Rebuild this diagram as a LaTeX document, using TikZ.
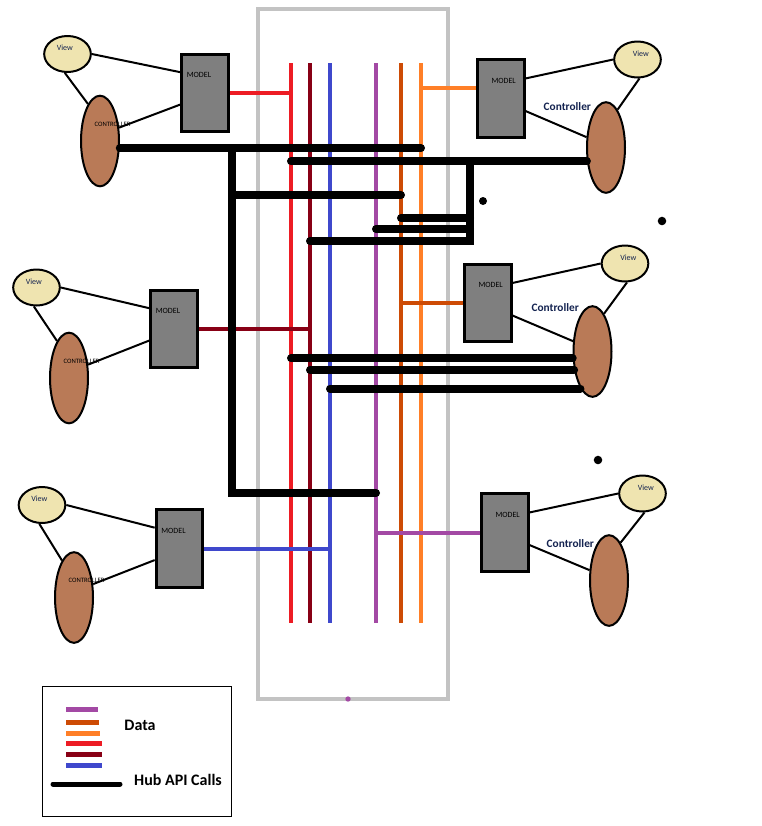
\documentclass[tikz,border=0pt]{standalone}
\usepackage{fontspec}
\setmainfont{Carlito}
\usetikzlibrary{shapes.geometric}

\definecolor{hubGray}{RGB}{195,195,195}
\definecolor{dataRed}{RGB}{237,28,36}
\definecolor{dataDarkRed}{RGB}{136,0,21}
\definecolor{dataBlue}{RGB}{63,72,204}
\definecolor{dataPurple}{RGB}{163,73,164}
\definecolor{dataDarkOrange}{RGB}{205,75,5}
\definecolor{dataOrange}{RGB}{255,127,39}
\definecolor{viewFill}{RGB}{239,228,176}
\definecolor{ctrlFill}{RGB}{185,122,87}
\definecolor{modelFill}{RGB}{127,127,127}
\definecolor{labelNavy}{RGB}{20,35,80}

\begin{document}
\begin{tikzpicture}[
    x=0.75pt, y=-0.75pt,
    hubBoxStyle/.style={hubGray, line width=3pt},
    hubLineStyle/.style={line width=3pt},
    hubApiStyle/.style={black, line width=6pt, line cap=round},
    mvcModel/.style={rectangle, draw=black, line width=2.25pt, fill=modelFill,
        minimum width=35pt, minimum height=58pt, inner sep=0pt},
    mvcView/.style={ellipse, draw=black, line width=1.5pt, fill=viewFill,
        minimum width=35pt, minimum height=27pt, inner sep=0pt},
    mvcCtrl/.style={ellipse, draw=black, line width=1.5pt, fill=ctrlFill,
        minimum width=28.5pt, minimum height=68pt, inner sep=0pt},
    mvcLink/.style={black, line width=1.5pt},
    modelText/.style={font=\fontsize{6}{7}\selectfont, text=black, inner sep=0pt, yshift=13.5pt},
    viewText/.style={font=\fontsize{6}{7}\selectfont, text=labelNavy, inner sep=0pt, yshift=4.5pt},
    ctrlText/.style={font=\fontsize{5}{6}\selectfont, text=black, inner sep=0pt, xshift=9.5pt, yshift=12.5pt},
    ctrlTitle/.style={font=\fontsize{8.5}{10}\selectfont\bfseries, text=labelNavy, inner sep=0pt},
    legendText/.style={font=\fontsize{12}{14}\selectfont\bfseries, text=black, inner sep=0pt}
]
    % rahmen
    \useasboundingbox (0,0) rectangle (762,826);
    \draw[hubBoxStyle] (258,9) rectangle (448,699);
    \fill[dataPurple] (348,699) circle (2pt);

    % datenleitungen im hub
    \foreach \hubX/\hubCol in {291/dataRed, 310/dataDarkRed, 330/dataBlue,
            376/dataPurple, 401/dataDarkOrange, 421/dataOrange} {
        \coordinate (top\hubCol) at (\hubX,63);
        \draw[hubLineStyle, \hubCol] (top\hubCol) -- (\hubX,623);
    }

    % MVC links
    \node[mvcView, label={[viewText, xshift=-2pt]center:View}] (viewTL) at (67.5,54) {};
    \node[mvcCtrl, label={[ctrlText]center:CONTROLLER}] (ctrlTL) at (100,141) {};
    \node[mvcModel, label={[modelText, xshift=-4.5pt]center:MODEL}] (modelTL) at (205,93) {};

    \node[mvcView, label={[viewText, xshift=-2pt]center:View}] (viewML) at (36.5,287.5) {};
    \node[mvcCtrl, label={[ctrlText]center:CONTROLLER}] (ctrlML) at (69,378) {};
    \node[mvcModel, label={[modelText, xshift=-4.5pt]center:MODEL}] (modelML) at (174,329) {};

    \node[mvcView, label={[viewText, xshift=-2pt]center:View}] (viewBL) at (42,505) {};
    \node[mvcCtrl, label={[ctrlText]center:CONTROLLER}] (ctrlBL) at (74,597.5) {};
    \node[mvcModel, label={[modelText, xshift=-4.5pt]center:MODEL}] (modelBL) at (179.5,548.5) {};

    % MVC rechts
    \node[mvcView, label={[viewText, xshift=2.5pt]center:View}] (viewTR) at (637.5,59.5) {};
    \node[mvcCtrl, label={[ctrlTitle, xshift=-29pt, yshift=31pt]center:Controller}] (ctrlTR) at (606,147.5) {};
    \node[mvcModel, label={[modelText, xshift=2pt]center:MODEL}] (modelTR) at (501,98.5) {};

    \node[mvcView, label={[viewText, xshift=2.5pt]center:View}] (viewMR) at (625,263.5) {};
    \node[mvcCtrl, label={[ctrlTitle, xshift=-28pt, yshift=33pt]center:Controller}] (ctrlMR) at (592.5,351.5) {};
    \node[mvcModel, label={[modelText, xshift=2pt]center:MODEL}] (modelMR) at (488,303) {};

    \node[mvcView, label={[viewText, xshift=2.5pt]center:View}] (viewBR) at (642.5,493.5) {};
    \node[mvcCtrl, label={[ctrlTitle, xshift=-29pt, yshift=28pt]center:Controller}] (ctrlBR) at (609,580.5) {};
    \node[mvcModel, label={[modelText, xshift=2pt]center:MODEL}] (modelBR) at (505,532.5) {};

    % verbindungen
    \foreach \grp in {TL, ML, BL} {
        \draw[mvcLink] (view\grp.east) -- (model\grp.140);
        \draw[mvcLink] (view\grp.262) -- (ctrl\grp.108);
        \draw[mvcLink] (ctrl\grp.35) -- (model\grp.205);
    }
    \foreach \grp in {TR, MR, BR} {
        \draw[mvcLink] (view\grp.west) -- (model\grp.39);
        \draw[mvcLink] (view\grp.276) -- (ctrl\grp.73);
        \draw[mvcLink] (model\grp.333) -- (ctrl\grp.152);
    }

    % daten zum hub
    \draw[hubLineStyle, dataRed] (modelTL.east) -- (modelTL.east -| topdataRed);
    \draw[hubLineStyle, dataDarkRed] (modelML.east) -- (modelML.east -| topdataDarkRed);
    \draw[hubLineStyle, dataBlue] (modelBL.east) -- (modelBL.east -| topdataBlue);
    \draw[hubLineStyle, dataOrange] (modelTR.157) -- (modelTR.157 -| topdataOrange);
    \draw[hubLineStyle, dataDarkOrange] (modelMR.west) -- (modelMR.west -| topdataDarkOrange);
    \draw[hubLineStyle, dataPurple] (modelBR.west) -- (modelBR.west -| topdataPurple);

    % hub API aufrufe
    \coordinate (busTrunkTop) at (232,149);
    \coordinate (busTrunkMid) at (232,195);
    \coordinate (busTrunkBot) at (232,493);
    \coordinate (busRightTop) at (470,162);
    \coordinate (busRightA) at (470,218);
    \coordinate (busRightB) at (470,229);
    \coordinate (busRightBot) at (470,241);
    \draw[hubApiStyle] (ctrlTL.-20) -- (ctrlTL.-20 -| topdataOrange);
    \draw[hubApiStyle] (busTrunkTop) -- (busTrunkBot) -- (busTrunkBot -| topdataPurple);
    \draw[hubApiStyle] (busTrunkMid) -- (busTrunkMid -| topdataDarkOrange);
    \draw[hubApiStyle] (ctrlTR.216) -- (ctrlTR.216 -| topdataRed);
    \draw[hubApiStyle] (busRightTop) -- (busRightBot) -- (busRightBot -| topdataDarkRed);
    \draw[hubApiStyle] (busRightA) -- (busRightA -| topdataDarkOrange);
    \draw[hubApiStyle] (busRightB) -- (busRightB -| topdataPurple);
    \draw[hubApiStyle] (ctrlMR.199) -- (ctrlMR.199 -| topdataRed);
    \draw[hubApiStyle] (ctrlMR.225) -- (ctrlMR.225 -| topdataDarkRed);
    \draw[hubApiStyle] (ctrlMR.252) -- (ctrlMR.252 -| topdataBlue);

    % punkte
    \fill (483,201) circle (3pt);
    \fill (662,221) circle (3.2pt);
    \fill (598,460) circle (3.2pt);

    % legende
    \draw[black, line width=0.75pt] (42,686) rectangle (231,816);
    \foreach \legY/\legCol/\legA in {709/dataPurple/98, 722/dataDarkOrange/99,
            733/dataOrange/100, 743/dataRed/102, 754/dataDarkRed/102, 765/dataBlue/102} {
        \draw[\legCol, line width=3.75pt] (66,\legY) -- (\legA,\legY);
    }
    \draw[black, line width=3.75pt, line cap=round] (53,784) -- (120,784);
    \node[legendText] (legData) at (140,725) {Data};
    \node[legendText] (legApi) at (178,780) {Hub API Calls};
\end{tikzpicture}
\end{document}
